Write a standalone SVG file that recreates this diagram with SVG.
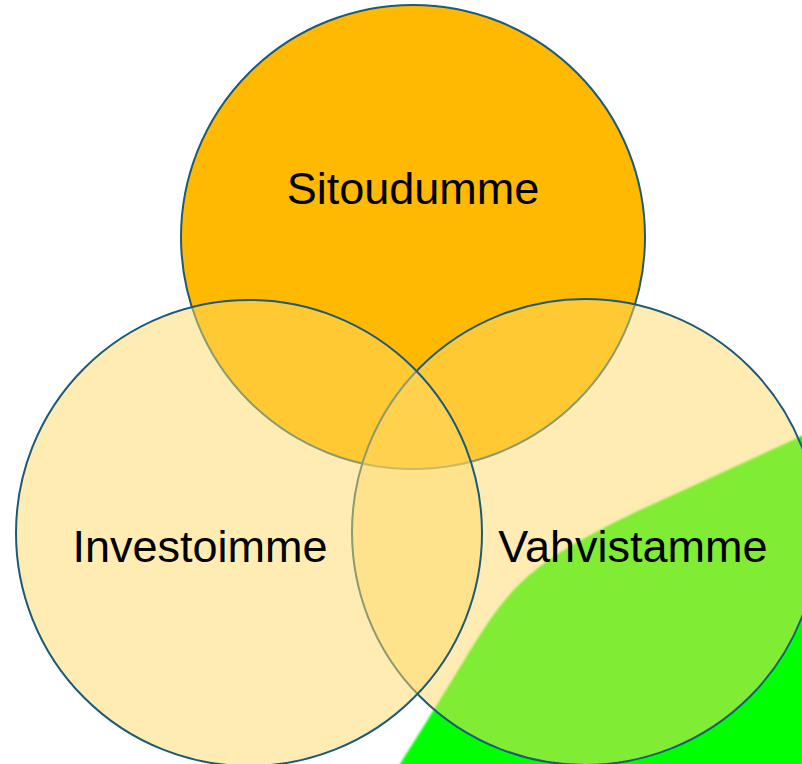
<svg xmlns="http://www.w3.org/2000/svg" width="802" height="764" viewBox="0 0 802 764">
  <defs>
    <filter id="soft" x="-10%" y="-10%" width="120%" height="120%">
      <feGaussianBlur stdDeviation="1.3"/>
    </filter>
    <style>
      .ring { stroke: #1B5A7A; stroke-width: 2; }
      .light { fill: #FFD966; fill-opacity: 0.5; }
      .label { font-family: "Liberation Sans", Arial, sans-serif; font-size: 45px; fill: #000000; text-anchor: middle; }
    </style>
  </defs>
  <rect x="0" y="0" width="802" height="764" fill="#FFFFFF"/>
  <g id="green-shape">
    <path d="M 830,423 L 640,510 C 560,548 530,570 505,600 C 480,630 460,670 400,764 L 390,780 L 830,780 Z" fill="#00FF00" filter="url(#soft)"/>
  </g>
  <g id="node-sitoudumme">
    <circle class="ring" cx="413" cy="237" r="232" fill="#FFB900"/>
  </g>
  <g id="node-vahvistamme">
    <circle class="ring light" cx="585" cy="532" r="233"/>
  </g>
  <g id="node-investoimme">
    <circle class="ring light" cx="249" cy="533" r="233"/>
  </g>
  <g id="connectors"></g>
  <g id="labels">
    <text class="label" x="413" y="204">Sitoudumme</text>
    <text class="label" x="200" y="562">Investoimme</text>
    <text class="label" x="633" y="562">Vahvistamme</text>
  </g>
</svg>
